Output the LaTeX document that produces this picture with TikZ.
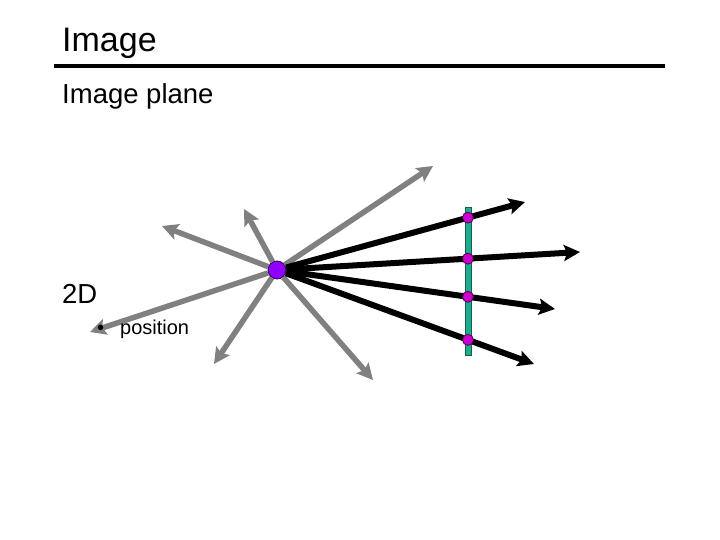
\documentclass[tikz,border=0pt]{standalone}
\usepackage{fontspec}
\setmainfont{Liberation Sans}
\usetikzlibrary{arrows.meta, positioning, calc}
\definecolor{raygray}{HTML}{808080}
\definecolor{copviolet}{HTML}{8F00FF}
\definecolor{hitpink}{HTML}{CC00CC}
\definecolor{planeteal}{HTML}{1AAE8F}
\definecolor{planeedge}{HTML}{1E5A4C}
\tikzset{
  >=Stealth,
  title/.style={anchor=base west, inner sep=0pt, font=\fontsize{34}{40}\selectfont},
  bodytext/.style={anchor=base west, inner sep=0pt, font=\fontsize{27.5}{33}\selectfont},
  subtext/.style={anchor=base west, inner sep=0pt, font=\fontsize{20}{24}\selectfont},
  miss/.style={draw=raygray, line width=5.5pt, -{Stealth[length=16pt,width=16pt,inset=3pt]}},
  ray/.style={draw=black, line width=6pt, -{Stealth[length=16pt,width=16pt,inset=3pt]}},
  cop/.style={circle, fill=copviolet, draw=black!70!copviolet, line width=0.8pt,
    minimum size=18pt, inner sep=0pt},
  hit/.style={circle, fill=hitpink, draw=black!60!hitpink, line width=0.8pt,
    minimum size=11pt, inner sep=0pt},
  plane/.style={rectangle, fill=planeteal, draw=planeedge, line width=0.8pt,
    minimum width=6pt, minimum height=148pt, inner sep=0pt}
}

\begin{document}
\begin{tikzpicture}[x=1pt, y=-1pt]
  \useasboundingbox (0,0) rectangle (720,540);
  % centre of projection and rays
  \node[cop] (c) at (277,270) {};
  \coordinate (g1) at (162,226);
  \coordinate (g2) at (244,209);
  \coordinate (g3) at (433,166);
  \coordinate (g4) at (90,332);
  \coordinate (g5) at (214,364);
  \coordinate (g6) at (373,380);
  \foreach \g in {g1,g2,g3,g4,g5,g6}
    \draw[miss] (c) -- (\g);

  \coordinate (t1) at (525,202);
  \coordinate (t2) at (580,252);
  \coordinate (t3) at (555,309);
  \coordinate (t4) at (534,364);
  \foreach \i/\f in {1/0.770, 2/0.630, 3/0.687, 4/0.743} {
    \draw[ray] (c) -- (t\i);
    \coordinate (h\i) at ($(c.center)!\f!(t\i)$);
  }

  % image plane
  \node[plane] (ip) at (468,281) {};
  \foreach \i in {1,...,4}
    \node[hit] (p\i) at (h\i) {};

  % heading
  \node[title] (head) at (62,52) {Image};
  \draw[line width=4pt] (54,66) -- (665,66);
  \node[bodytext] (sub) at (62,104) {Image plane};
  \node[bodytext] (dim) at (62,303) {2D};
  \node[subtext] (pos) at (97,334) {\makebox[23pt][l]{\textbullet}position};
\end{tikzpicture}
\end{document}
